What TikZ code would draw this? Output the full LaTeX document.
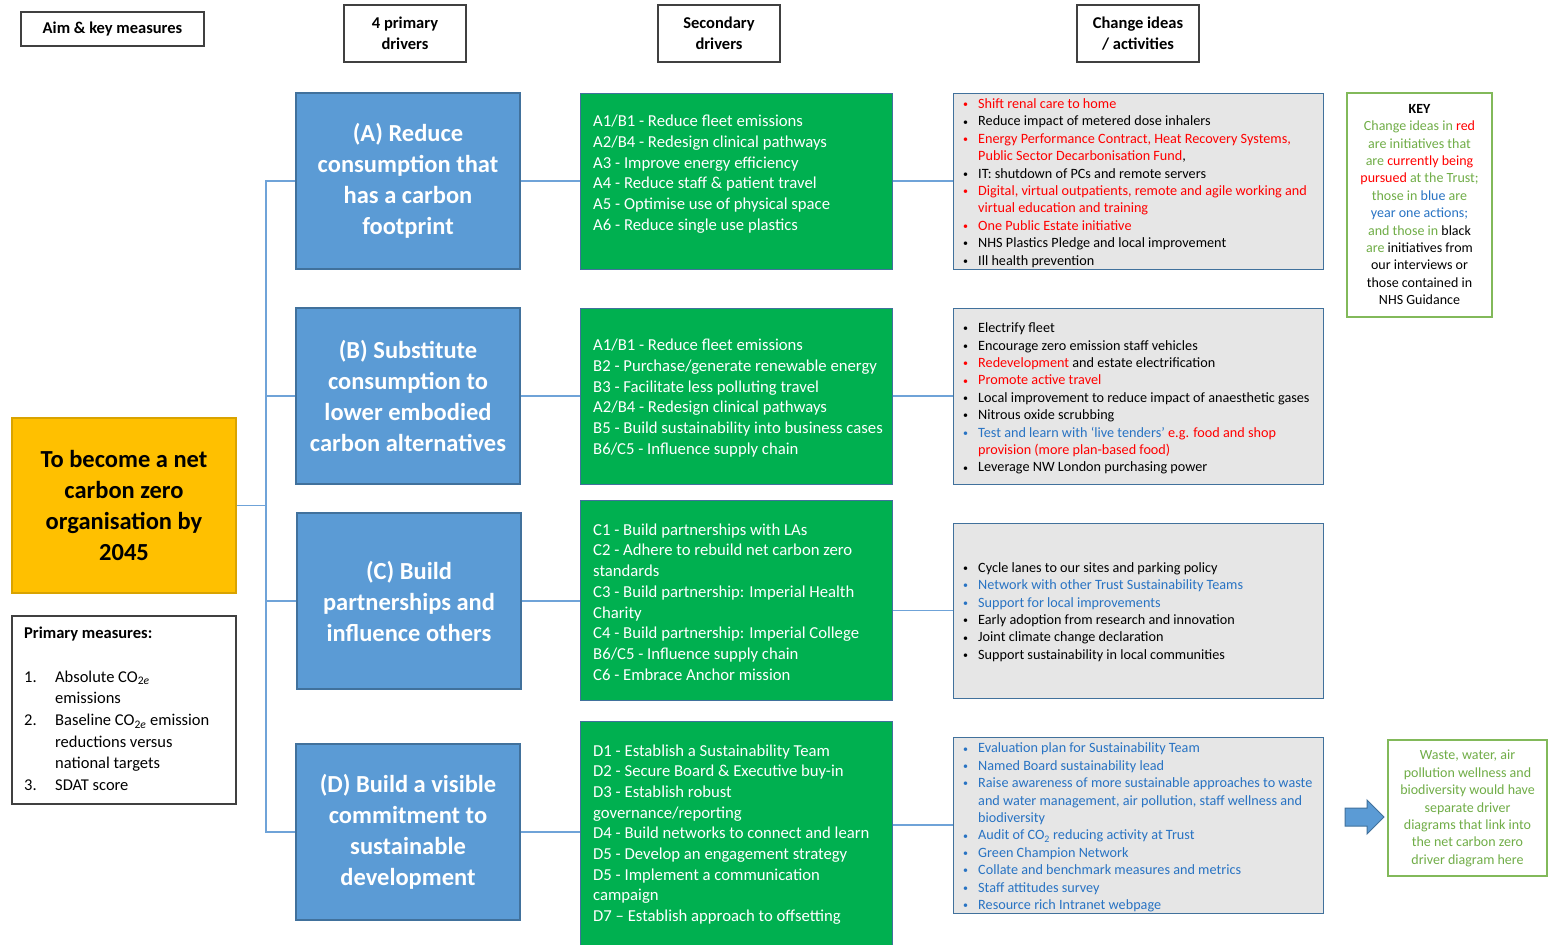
\documentclass[tikz,border=0pt]{standalone}
\usepackage{fontspec}
\setmainfont{Carlito}
\definecolor{pblue}{HTML}{5B9BD5}
\definecolor{pbord}{HTML}{41719C}
\definecolor{sgreen}{HTML}{00B050}
\definecolor{aimyel}{HTML}{FFC000}
\definecolor{aimbord}{HTML}{D9A300}
\definecolor{cgray}{HTML}{E6E6E6}
\definecolor{cred}{HTML}{FF0000}
\definecolor{cblue}{RGB}{40,115,195}
\definecolor{kgreen}{HTML}{70AD47}
\definecolor{kbord}{RGB}{130,185,90}
\definecolor{lineblue}{HTML}{6FA3D8}
\newcommand{\bitem}{\makebox[15pt][l]{\raisebox{0.8pt}{\scalebox{0.7}{\textbullet}}}}
\newcommand{\bcont}{\hspace*{15pt}}
\newcommand{\pmnum}[1]{\makebox[31pt][l]{#1}}
\newcommand{\pmcont}{\hspace*{31pt}}
\tikzset{
  hdr/.style={draw=black!75, line width=1.5pt, fill=white, font=\fontsize{16.5}{21.5}\selectfont\bfseries, align=center, inner sep=0pt},
  pdrv/.style={draw=pbord, fill=pblue, line width=1.2pt, text=white, font=\fontsize{24.5}{31}\selectfont\bfseries, align=center, minimum width=224pt, minimum height=176pt, inner sep=0pt},
  sbox/.style={draw=pbord, fill=sgreen, line width=1pt, minimum width=312pt, inner sep=0pt},
  stext/.style={text=white, font=\fontsize{16.7}{20.7}\selectfont, align=left, inner sep=0pt, anchor=west},
  cbox/.style={draw=pbord, fill=cgray, line width=1pt, minimum width=370pt, minimum height=176pt, inner sep=0pt},
  ctext/.style={font=\fontsize{14.2}{17.4}\selectfont, align=left, inner sep=0pt, anchor=west},
  gbox/.style={draw=kbord, line width=1.5pt, fill=white, inner sep=0pt},
  gtext/.style={align=center, inner sep=0pt, font=\fontsize{14}{17.4}\selectfont, text=kgreen},
  link/.style={draw=lineblue, line width=1.3pt},
}
\begin{document}
\begin{tikzpicture}[x=1pt,y=-1pt]
\useasboundingbox[fill=white] (0,0) rectangle (1548,945);

% headers
\node[hdr, minimum width=183pt, minimum height=34pt] (h1) at (112.5,29) {Aim \& key measures};
\node[hdr, minimum width=122pt, minimum height=57pt] (h2) at (405,33.5) {4 primary\\drivers};
\node[hdr, minimum width=122pt, minimum height=57pt] (h3) at (719,33.5) {Secondary\\drivers};
\node[hdr, minimum width=122pt, minimum height=57pt] (h4) at (1138,33.5) {Change ideas\\/ activities};

% aim
\node[draw=aimbord, fill=aimyel, line width=1.2pt, minimum width=224pt, minimum height=175pt, font=\fontsize{24.5}{30.7}\selectfont\bfseries, align=center, inner sep=0pt] (aim) at (124,505.5) {To become a net\\carbon zero\\organisation by\\2045};

% primary measures
\node[draw=black!75, line width=1.3pt, fill=white, minimum width=224pt, minimum height=188pt, inner sep=0pt] (pm) at (124,710) {};
\node[anchor=west, align=left, inner sep=0pt, font=\fontsize{16.5}{21.7}\selectfont] (pmt) at (24,709) {\textbf{Primary measures:}\\
~\\
\pmnum{1.}Absolute CO\textsubscript{2\textit{e}}\\
\pmcont emissions\\
\pmnum{2.}Baseline CO\textsubscript{2\textit{e}} emission\\
\pmcont reductions versus\\
\pmcont national targets\\
\pmnum{3.}SDAT score};

% primary drivers
\node[pdrv] (pA) at (408,181) {(A) Reduce\\consumption that\\has a carbon\\footprint};
\node[pdrv] (pB) at (408,396) {(B) Substitute\\consumption to\\lower embodied\\carbon alternatives};
\node[pdrv] (pC) at (409,601) {(C) Build\\partnerships and\\influence others};
\node[pdrv] (pD) at (408,832) {(D) Build a visible\\commitment to\\sustainable\\development};

% secondary drivers
\node[sbox, minimum height=176pt] (sA) at (736,181) {};
\node[sbox, minimum height=176pt] (sB) at (736,396) {};
\node[sbox, minimum height=200pt] (sC) at (736,600) {};
\node[sbox, minimum height=224pt] (sD) at (736,833) {};
\node[stext] (tsA) at (593,174) {A1/B1 - Reduce fleet emissions\\A2/B4 - Redesign clinical pathways\\A3 - Improve energy efficiency\\A4 - Reduce staff \& patient travel\\A5 - Optimise use of physical space\\A6 - Reduce single use plastics};
\node[stext] (tsB) at (593,398) {A1/B1 - Reduce fleet emissions\\B2 - Purchase/generate renewable energy\\B3 - Facilitate less polluting travel\\A2/B4 - Redesign clinical pathways\\B5 - Build sustainability into business cases\\B6/C5 - Influence supply chain};
\node[stext] (tsC) at (593,602) {C1 - Build partnerships with LAs\\C2 - Adhere to rebuild net carbon zero\\standards\\C3 - Build partnership: Imperial Health\\Charity\\C4 - Build partnership: Imperial College\\B6/C5 - Influence supply chain\\C6 - Embrace Anchor mission};
\node[stext] (tsD) at (593,834.5) {D1 - Establish a Sustainability Team\\D2 - Secure Board \& Executive buy-in\\D3 - Establish robust\\governance/reporting\\D4 - Build networks to connect and learn\\D5 - Develop an engagement  strategy\\D5 - Implement a communication\\campaign\\D7 -- Establish approach to offsetting};

% change ideas
\node[cbox] (cA) at (1138,181) {};
\node[cbox] (cB) at (1138,396) {};
\node[cbox, minimum height=175pt] (cC) at (1138,610.5) {};
\node[cbox] (cD) at (1138,825) {};
\node[ctext] (tcA) at (963,183) {{\color{cred}\bitem Shift renal care to home}\\
\bitem Reduce impact of metered dose inhalers\\
{\color{cred}\bitem Energy Performance Contract, Heat Recovery Systems,}\\
\bcont{\color{cred}Public Sector Decarbonisation Fund},\\
\bitem IT: shutdown of PCs and remote servers\\
{\color{cred}\bitem Digital, virtual outpatients, remote and agile working and}\\
\bcont{\color{cred}virtual education and training}\\
{\color{cred}\bitem One Public Estate initiative}\\
\bitem NHS Plastics Pledge and local improvement\\
\bitem Ill health prevention};
\node[ctext] (tcB) at (963,398.5) {\bitem Electrify fleet\\
\bitem Encourage zero emission staff vehicles\\
{\color{cred}\bitem Redevelopment} and estate electrification\\
{\color{cred}\bitem Promote active travel}\\
\bitem Local improvement to reduce impact of anaesthetic gases\\
\bitem Nitrous oxide scrubbing\\
{\color{cblue}\bitem Test and learn with ‘live tenders’} {\color{cred}e.g. food and shop}\\
\bcont{\color{cred}provision (more plan-based food)}\\
\bitem Leverage NW London purchasing power};
\node[ctext] (tcC) at (963,612) {\bitem Cycle lanes to our sites and parking policy\\
{\color{cblue}\bitem Network with other Trust Sustainability Teams}\\
{\color{cblue}\bitem Support for local improvements}\\
\bitem Early adoption from research and innovation\\
\bitem Joint climate change declaration\\
\bitem Support sustainability in local communities};
\node[ctext, text=cblue] (tcD) at (963,827.5) {\bitem Evaluation plan for Sustainability Team\\
\bitem Named Board sustainability lead\\
\bitem Raise awareness of more sustainable approaches to waste\\
\bcont and water management, air pollution, staff wellness and\\
\bcont biodiversity\\
\bitem Audit of CO\textsubscript{2} reducing activity at Trust\\
\bitem Green Champion Network\\
\bitem Collate and benchmark measures and metrics\\
\bitem Staff attitudes survey\\
\bitem Resource rich Intranet webpage};

% key
\node[gbox, minimum width=145pt, minimum height=224pt] (key) at (1419.5,205) {};
\node[gtext] (keyt) at (1419.5,204.5) {{\color{black}\bfseries KEY}\\
Change ideas in {\color{cred}red}\\
are initiatives that\\
are {\color{cred}currently being}\\
{\color{cred}pursued} at the Trust;\\
those in {\color{cblue}blue} are\\
{\color{cblue}year one actions;}\\
and those in {\color{black}black}\\
are {\color{black}initiatives from}\\
{\color{black}our interviews or}\\
{\color{black}those contained in}\\
{\color{black}NHS Guidance}};

% other drivers box
\node[gbox, minimum width=159pt, minimum height=136pt] (oth) at (1467.5,808) {};
\node[gtext] (otht) at (1467.5,808.5) {Waste, water, air\\pollution wellness and\\biodiversity would have\\separate driver\\diagrams that link into\\the net carbon zero\\driver diagram here};

% block arrow
\filldraw[fill=pblue, draw=pbord, line width=1pt] (1345,808) -- (1367,808) -- (1367,800) -- (1384,817) -- (1367,834) -- (1367,826) -- (1345,826) -- cycle;

% connectors
\coordinate (jn) at (266,505.5);
\draw[link] (aim.east) -- (jn);
\draw[link] (jn) |- (pA.west);
\draw[link] (jn) |- (pB.west);
\draw[link] (jn) |- (pC.west);
\draw[link] (jn) |- (pD.west);
\draw[link] (pA.east) -- (sA.west);
\draw[link] (pB.east) -- (sB.west);
\draw[link] (pC.east) -- (pC.east -| sC.west);
\draw[link] (pD.east) -- (pD.east -| sD.west);
\draw[link] (cA.west -| sA.east) -- (cA.west);
\draw[link] (cB.west -| sB.east) -- (cB.west);
\draw[link] (cC.west -| sC.east) -- (cC.west);
\draw[link] (cD.west -| sD.east) -- (cD.west);
\end{tikzpicture}
\end{document}
